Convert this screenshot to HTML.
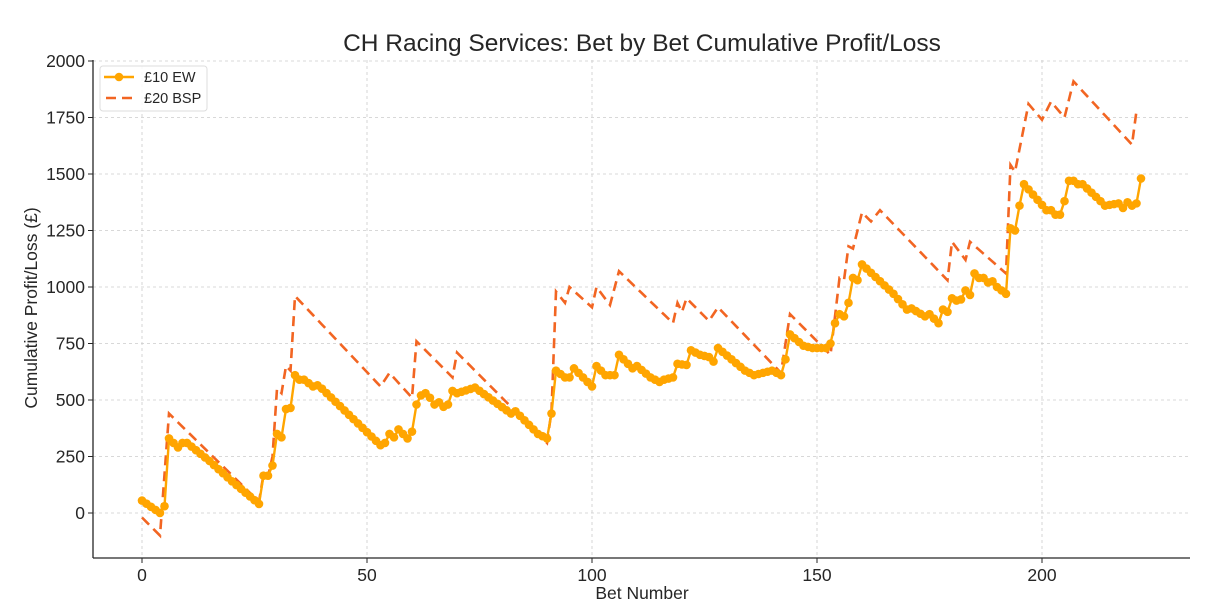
<!DOCTYPE html>
<html><head><meta charset="utf-8"><style>
body{margin:0;background:#fff}
svg text{font-family:"Liberation Sans","DejaVu Sans",sans-serif;fill:#262626}
</style></head><body>
<svg id="s" width="1214" height="611" xmlns="http://www.w3.org/2000/svg"></svg>
<script>
const X=v=>142+v*4.5, Y=v=>513-v*0.226;
const ew=[[0,55],[4,0],[5,30],[6,330],[8,290],[9,310],[10,310],[15,230],[20,140],[26,40],[27,165],[28,165],[29,210],[30,350],[31,335],[32,460],[33,465],[34,610],[35,590],[36,590],[37,575],[38,560],[39,565],[40,550],[53,300],[54,310],[55,350],[56,335],[57,370],[58,350],[59,330],[60,360],[61,480],[62,520],[63,530],[64,510],[65,480],[66,490],[67,470],[68,480],[69,540],[70,530],[74,555],[82,440],[83,450],[88,350],[90,330],[91,440],[92,630],[94,600],[95,600],[96,640],[100,560],[101,650],[103,610],[105,610],[106,700],[109,640],[110,650],[113,600],[115,580],[116,590],[118,600],[119,660],[121,655],[122,720],[124,700],[126,690],[127,670],[128,730],[131,680],[134,630],[136,610],[138,620],[140,630],[142,610],[143,680],[144,790],[147,740],[149,730],[152,730],[153,750],[154,840],[155,880],[156,870],[157,930],[158,1040],[159,1030],[160,1100],[167,970],[170,900],[171,905],[174,870],[175,880],[177,840],[178,900],[179,890],[180,950],[181,940],[182,945],[183,985],[184,965],[185,1060],[186,1040],[187,1040],[188,1020],[189,1025],[190,1000],[191,985],[192,970],[193,1260],[194,1250],[195,1360],[196,1455],[201,1340],[202,1340],[203,1320],[204,1320],[205,1380],[206,1470],[207,1470],[208,1455],[209,1455],[213,1380],[214,1360],[217,1370],[218,1350],[219,1375],[220,1360],[221,1370],[222,1480]];
const bsp=[[0,-20],[4,-100],[6,440],[26,50],[27,170],[28,160],[29,250],[30,550],[31,530],[32,650],[33,630],[34,960],[53,560],[55,620],[60,510],[61,760],[69,600],[70,710],[90,310],[91,450],[92,980],[94,930],[95,1000],[100,910],[101,1000],[104,920],[106,1070],[118,840],[119,930],[120,890],[121,950],[126,850],[128,910],[142,620],[144,880],[153,700],[155,1040],[156,1030],[157,1180],[158,1170],[160,1330],[162,1290],[164,1340],[179,1030],[180,1200],[183,1120],[184,1200],[192,1060],[193,1540],[194,1510],[197,1810],[200,1740],[202,1820],[205,1750],[207,1910],[220,1630],[221,1780]];
function interp(k){const o=[];for(let i=0;i<k.length-1;i++){const[a,b]=k[i],[c,d]=k[i+1];for(let x=a;x<c;x++)o.push([x,b+(d-b)*(x-a)/(c-a)]);}o.push(k[k.length-1]);return o;}
let h='';
for(let v=0;v<=200;v+=50)h+=`<line x1="${X(v)}" y1="60" x2="${X(v)}" y2="558" stroke="#ccc" stroke-dasharray="3,3" stroke-width="0.8"/>`;
for(let v=0;v<=2000;v+=250)h+=`<line x1="93" y1="${Y(v)}" x2="1190" y2="${Y(v)}" stroke="#ccc" stroke-dasharray="3,3" stroke-width="0.8"/>`;
const e=interp(ew),b=interp(bsp);
h+=`<polyline fill="none" stroke="#f26522" stroke-width="2.6" stroke-dasharray="10,6" points="${b.map(p=>X(p[0])+','+Y(p[1])).join(' ')}"/>`;
h+=`<polyline fill="none" stroke="#ffa500" stroke-width="2.4" points="${e.map(p=>X(p[0])+','+Y(p[1])).join(' ')}"/>`;
e.forEach(p=>h+=`<circle cx="${X(p[0])}" cy="${Y(p[1])}" r="4.3" fill="#ffa500"/>`);
h+=`<line x1="93" y1="60" x2="93" y2="558" stroke="#262626" stroke-width="1.3"/><line x1="93" y1="558" x2="1190" y2="558" stroke="#262626" stroke-width="1.3"/>`;
for(let v=0;v<=200;v+=50)h+=`<line x1="${X(v)}" y1="558" x2="${X(v)}" y2="563" stroke="#262626"/><text x="${X(v)}" y="581" font-size="17.5" text-anchor="middle">${v}</text>`;
for(let v=0;v<=2000;v+=250)h+=`<line x1="88" y1="${Y(v)}" x2="93" y2="${Y(v)}" stroke="#262626"/><text x="85" y="${Y(v)+6}" font-size="17.5" text-anchor="end">${v}</text>`;
h+=`<text x="642" y="51" font-size="24.5" text-anchor="middle">CH Racing Services: Bet by Bet Cumulative Profit/Loss</text>`;
h+=`<text x="642" y="599" font-size="17.5" text-anchor="middle">Bet Number</text>`;
h+=`<text transform="translate(37,308) rotate(-90)" font-size="17.5" text-anchor="middle">Cumulative Profit/Loss (£)</text>`;
h+=`<rect x="100" y="66" width="107" height="45" rx="3" fill="#fff" fill-opacity="0.85" stroke="#ddd"/>`;
h+=`<line x1="104" y1="77" x2="134" y2="77" stroke="#ffa500" stroke-width="2.4"/><circle cx="119" cy="77" r="4.3" fill="#ffa500"/><text x="144" y="82" font-size="14.5">£10 EW</text>`;
h+=`<line x1="106" y1="98" x2="134" y2="98" stroke="#f26522" stroke-width="2.6" stroke-dasharray="10,6"/><text x="144" y="103" font-size="14.5">£20 BSP</text>`;
document.getElementById('s').innerHTML=h;
</script>
</body></html>
